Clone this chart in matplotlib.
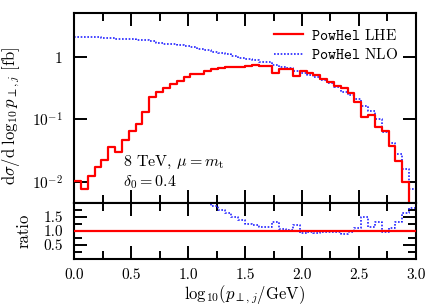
import numpy as np
import matplotlib
matplotlib.use("Agg")
import matplotlib.pyplot as plt
from matplotlib.lines import Line2D

plt.rcParams['font.family'] = 'serif'
plt.rcParams['font.serif'] = ['cmr10']
plt.rcParams['mathtext.fontset'] = 'cm'
plt.rcParams['axes.formatter.use_mathtext'] = True
plt.rcParams['font.size'] = 11

# bin edges in log10(pT/GeV)
edges = np.linspace(0.0, 3.0, 51)

lhe = [0.0104, 0.00755, 0.0124, 0.0174, 0.0223, 0.0365, 0.0304, 0.0468, 0.0654, 0.0838,
       0.130, 0.227, 0.273, 0.318, 0.368, 0.421, 0.490, 0.530, 0.535, 0.602,
       0.641, 0.666, 0.690, 0.700, 0.706, 0.733, 0.760, 0.728, 0.725, 0.553,
       0.648, 0.648, 0.500, 0.602, 0.553, 0.519, 0.448, 0.405, 0.346, 0.318,
       0.264, 0.193, 0.111, 0.118, 0.0766, 0.0653, 0.0379, 0.0212, 0.0098, 0.0042]

nlo = [2.14, 2.12, 2.10, 2.08, 2.05, 2.02, 1.99, 1.96, 1.93, 1.90,
       1.87, 1.84, 1.70, 1.66, 1.62, 1.57, 1.51, 1.44, 1.37, 1.29,
       1.21, 1.165, 1.13, 1.06, 0.99, 0.92, 0.91, 0.835, 0.83, 0.74,
       0.70, 0.66, 0.605, 0.566, 0.525, 0.488, 0.43, 0.385, 0.332, 0.28,
       0.25, 0.212, 0.165, 0.136, 0.100, 0.064, 0.0417, 0.028, 0.0160, 0.0076]

lhe = np.array(lhe)
nlo = np.array(nlo)
ratio_nlo = nlo / lhe
ratio_lhe = lhe / lhe

fig = plt.figure(figsize=(4.36, 3.08), dpi=100)
ax = fig.add_axes([0.170, 0.341, 0.784, 0.617])
axr = fig.add_axes([0.170, 0.159, 0.784, 0.182], sharex=ax)

red = '#ff0000'
blue = '#2222ff'

def steps(a, vals, **kw):
    y = np.append(vals, vals[-1])
    a.step(edges, y, where='post', **kw)

steps(ax, lhe, color=red, lw=1.6, zorder=3)
steps(ax, nlo, color=blue, lw=1.2, ls=(0, (1, 1.0)), zorder=2)
steps(axr, ratio_lhe, color=red, lw=1.6, zorder=3)
steps(axr, ratio_nlo, color=blue, lw=1.2, ls=(0, (1, 1.0)), zorder=2)

ax.set_yscale('log')
ax.set_ylim(4.55e-3, 5.15)
ax.set_xlim(0, 3)
axr.set_ylim(0, 2)

for a in (ax, axr):
    for s in a.spines.values():
        s.set_linewidth(1.5)
    a.tick_params(which='both', direction='in', top=True, right=True, width=1.4)
    a.tick_params(which='major', length=9.5)
    a.tick_params(which='minor', length=5.8)

ax.set_yticks([1e-2, 1e-1, 1])
ax.set_yticklabels([r'$10^{-2}$', r'$10^{-1}$', r'$1$'])
ax.yaxis.set_minor_locator(matplotlib.ticker.NullLocator())
ax.set_xticks(np.arange(0, 3.01, 0.5))
ax.set_xticks(np.arange(0.25, 3.0, 0.5), minor=True)
plt.setp(ax.get_xticklabels(), visible=False)
ax.tick_params(axis='y', pad=8)

axr.set_yticks([0.5, 1.0, 1.5])
axr.set_yticklabels(['0.5', '1.0', '1.5'])
axr.set_yticks([0.25, 0.75, 1.25, 1.75], minor=True)
axr.set_xticklabels(['0.0', '0.5', '1.0', '1.5', '2.0', '2.5', '3.0'])
axr.tick_params(axis='x', pad=7)
axr.tick_params(axis='y', pad=8)

ax.set_ylabel(r'$\mathrm{d}\sigma/\mathrm{d}\;\log_{10}p_{\perp,j}$ [fb]', fontsize=12)
ax.yaxis.set_label_coords(-0.152, 0.46)
axr.set_ylabel('ratio', fontsize=12)
axr.yaxis.set_label_coords(-0.125, 0.5)
axr.set_xlabel(r'$\mathrm{log}_{10}(p_{\perp,j}/\mathrm{GeV})$', fontsize=12, labelpad=1)

ax.text(0.143, 0.195, r'8 TeV, $\mu=m_\mathrm{t}$', transform=ax.transAxes, fontsize=11.5)
ax.text(0.143, 0.09, r'$\delta_0=0.4$', transform=ax.transAxes, fontsize=11.5)

handles = [Line2D([], [], color=red, lw=1.6),
           Line2D([], [], color=blue, lw=1.2, ls=(0, (1, 1.0)))]
ax.legend(handles, [r'$\mathtt{PowHel}$ LHE', r'$\mathtt{PowHel}$ NLO'],
          loc='upper right', bbox_to_anchor=(0.965, 0.955), frameon=False,
          handlelength=1.9, handletextpad=0.5, labelspacing=0.3, fontsize=11,
          borderaxespad=0.0)

fig.savefig('out.png', dpi=100)
